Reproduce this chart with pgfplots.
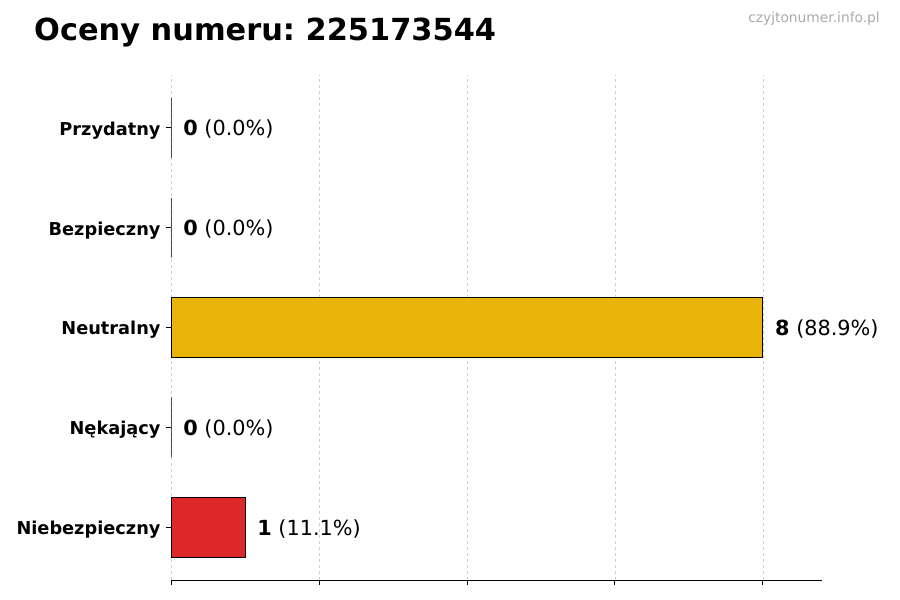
\documentclass[border=0pt]{standalone}
\usepackage{pgfplots}
\pgfplotsset{compat=1.18}
\usepackage{fontspec}
\setmainfont{DejaVu Sans}
\frenchspacing
\definecolor{barYellow}{RGB}{232,180,10}
\definecolor{barRed}{RGB}{220,40,40}
\definecolor{wm}{RGB}{170,170,170}

\begin{document}
\begin{tikzpicture}[x=1pt,y=1pt]
\path[use as bounding box] (-171,-20) rectangle (729,580);
\begin{axis}[
    at={(0,0)}, anchor=south west,
    scale only axis, width=651pt, height=505pt,
    xmin=0, xmax=8.8, ymin=-0.53, ymax=4.53,
    xbar, bar width=0.6, bar shift=0pt,
    clip=false,
    axis x line*=bottom, axis y line*=left,
    y axis line style={draw=none},
    xtick={0,2,4,6,8}, xticklabels={},
    ytick={0,1,2,3,4},
    yticklabels={Niebezpieczny,Nękający,Neutralny,Bezpieczny,Przydatny},
    tick align=outside, major tick length=5pt,
    tick style={black, line width=0.8pt},
    x axis line style={line width=0.8pt, -},
    xmajorgrids, grid style={dashed, black!18, line width=0.6pt},
    yticklabel style={font=\fontsize{17.75}{20}\selectfont\bfseries,
        xshift=-2pt, yshift=-2.5pt},
    point meta=explicit symbolic,
    nodes near coords,
    nodes near coords style={anchor=west, inner sep=0pt, xshift=12pt, yshift=-1.5pt,
        font=\fontsize{20.8}{24}\selectfont, text=black},
]
% zero counts
\addplot[fill=black!30, draw=black, line width=0.8pt] coordinates {
    (0,1) [{\textbf{0} (0.0\%)}]
    (0,3) [{\textbf{0} (0.0\%)}]
    (0,4) [{\textbf{0} (0.0\%)}]
};
\addplot[fill=barYellow, draw=black, line width=0.8pt] coordinates {
    (8,2) [{\textbf{8} (88.9\%)}]
};
\addplot[fill=barRed, draw=black, line width=0.8pt] coordinates {
    (1,0) [{\textbf{1} (11.1\%)}]
};
\end{axis}
\node[anchor=base west, inner sep=0pt, font=\fontsize{30.4}{36}\selectfont\bfseries]
    at (-137,539) {Oceny numeru: 225173544};
\node[anchor=base east, inner sep=0pt, text=wm, font=\fontsize{13.8}{16}\selectfont]
    at (709,557) {czyjtonumer.info.pl};
\end{tikzpicture}
\end{document}
